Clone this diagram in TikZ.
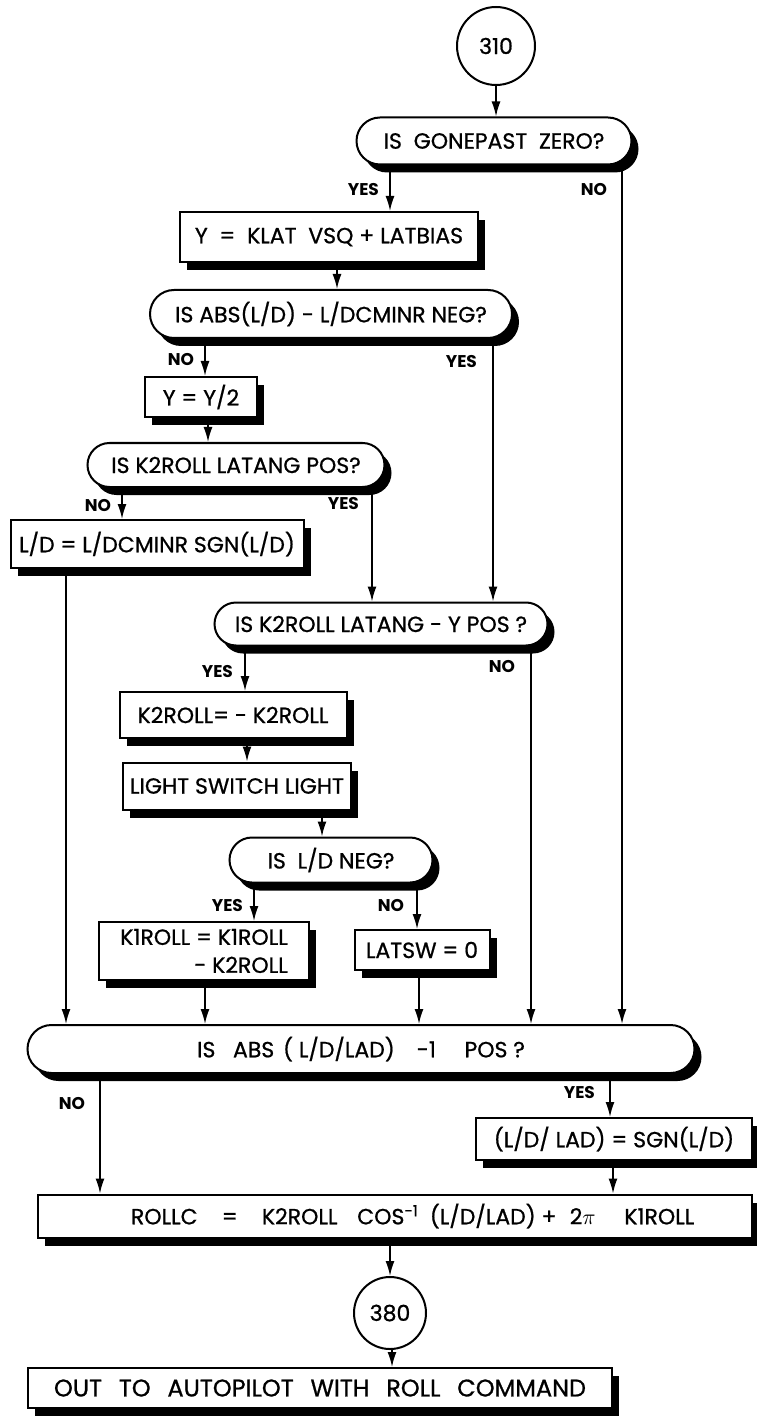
\documentclass[tikz,border=0pt]{standalone}
\usepackage{fontspec}
\setmainfont{Poppins}
\newfontfamily\texte{Poppins}[FakeBold=0.8]
\usetikzlibrary{arrows.meta,shapes.misc,shadows}

\begin{document}
\begin{tikzpicture}[x=0.5pt,y=-0.5pt,
    >={Latex[length=7.5pt,width=4.5pt]},
    every node/.style={font=\texte\fontsize{11}{14}\selectfont},
    ombre/.style={drop shadow={shadow xshift=3.5pt,shadow yshift=-4pt,opacity=1,fill=black}},
    boite/.style={draw,line width=1pt,fill=white,ombre,inner sep=0pt},
    test/.style={rounded rectangle,draw,line width=1pt,fill=white,ombre,inner sep=0pt},
    rond/.style={circle,draw,line width=1pt,fill=white,inner sep=0pt},
    lien/.style={->,line width=0.8pt},
    etiq/.style={font=\fontsize{8.5}{9}\selectfont\bfseries,anchor=east}]

    \useasboundingbox (0,0) rectangle (756,1422);

    % Colonnes des liaisons verticales
    \foreach \n/\x in {oa/390, ob/622, oc/337, od/205, oe/493, of/208, og/122,
                       oh/372, oi/66, oj/245, ok/531, ol/247, om/322, on/254,
                       oo/417, op/205, oq/419, or/100, os/610, ot/613, ou/390, ov/392} {
        \coordinate (\n) at (\x,0);
    }

    % ==============================================
    % Partie haute
    % ==============================================
    \node[rond,minimum size=39pt] (c310) at (496,46) {310};
    \node[test,minimum width=137.5pt,minimum height=23.5pt] (gone) at (494,141) {IS\ \ GONEPAST\ \ ZERO?};
    \node[boite,minimum width=149pt,minimum height=25pt] (ybias) at (329,237) {Y\ \ =\ \ KLAT\ \ VSQ + LATBIAS};
    \node[test,minimum width=181pt,minimum height=24pt] (absneg) at (331,314) {IS ABS(L/D) - L/DCMINR NEG?};
    \node[boite,minimum width=56pt,minimum height=20pt] (yhalf) at (201,397) {Y = Y/2};
    \node[test,minimum width=148.5pt,minimum height=22pt] (latpos) at (236,465) {IS\ K2ROLL LATANG POS?};
    \node[boite,minimum width=146.5pt,minimum height=24pt] (ldmin) at (157,544) {L/D = L/DCMINR SGN(L/D)};

    % ==============================================
    % Branche centrale
    % ==============================================
    \node[test,minimum width=166.5pt,minimum height=21.5pt] (latypos) at (381,624) {IS K2ROLL LATANG - Y POS ?};
    \node[boite,minimum width=113.5pt,minimum height=23pt] (k2neg) at (233,715) {K2ROLL= - K2ROLL};
    \node[boite,minimum width=114pt,minimum height=23.5pt] (light) at (237,786) {LIGHT SWITCH LIGHT};
    \node[test,minimum width=101.5pt,minimum height=22.5pt] (ldneg) at (331,860) {IS\ \ L/D NEG?};
    \node[boite,minimum width=105pt,minimum height=29pt,align=right] (k1roll) at (204,951) {K1ROLL = K1ROLL\\ - K2ROLL};
    \node[boite,minimum width=67.5pt,minimum height=20pt] (latsw) at (422,950) {LATSW = 0};

    % ==============================================
    % Partie basse
    % ==============================================
    \node[test,minimum width=333.5pt,minimum height=24pt] (absone) at (361,1049)
        {IS\hspace{0.8em}ABS\hspace{0.4em}( L/D/LAD)\hspace{1em}-1\hspace{1.3em}POS ?};
    \node[boite,minimum width=138pt,minimum height=21pt] (ldsgn) at (614,1139) {(L/D/ LAD) = SGN(L/D)};
    \node[boite,minimum width=357pt,minimum height=21.5pt] (rollc) at (395,1216)
        {\hspace*{1.6em}ROLLC\hspace{1.1em}=\hspace{1.1em}K2ROLL\hspace{0.9em}COS\textsuperscript{-1}\hspace{0.5em}(L/D/LAD) +\hspace{0.6em}2$\pi$\hspace{1.3em}K1ROLL};
    \node[rond,minimum size=36pt] (c380) at (390,1313) {380};
    \node[boite,minimum width=292pt,minimum height=20pt,font=\texte\fontsize{12}{14}\selectfont] (out) at (320,1388)
        {OUT\hspace{0.7em}TO\hspace{0.7em}AUTOPILOT\hspace{0.7em}WITH\hspace{0.7em}ROLL\hspace{0.7em}COMMAND};

    % Etiquettes OUI / NON
    \node[etiq] (y1) at (386,190) {YES};
    \node[etiq] (n1) at (614,190) {NO};
    \node[etiq] (n2) at (201,360) {NO};
    \node[etiq] (y2) at (484,362) {YES};
    \node[etiq] (n3) at (118,506) {NO};
    \node[etiq] (y3) at (366,504) {YES};
    \node[etiq] (y4) at (240,672) {YES};
    \node[etiq] (n4) at (522,667) {NO};
    \node[etiq] (y5) at (250,905) {YES};
    \node[etiq] (n5) at (411,905) {NO};
    \node[etiq] (n6) at (92,1103) {NO};
    \node[etiq] (y6) at (602,1092) {YES};

    % Liaisons
    \draw[lien] (c310.south) -- (c310.south |- gone.north);
    \draw[lien] (gone.south -| oa) -- (ybias.north -| oa);
    \draw[lien] (gone.south -| ob) -- (absone.north -| ob);
    \draw[lien] (ybias.south -| oc) -- (absneg.north -| oc);
    \draw[lien] (absneg.south -| od) -- (yhalf.north -| od);
    \draw[lien] (absneg.south -| oe) -- (latypos.north -| oe);
    \draw[lien] (yhalf.south -| of) -- (latpos.north -| of);
    \draw[lien] (latpos.south -| og) -- (ldmin.north -| og);
    \draw[lien] (latpos.south -| oh) -- (latypos.north -| oh);
    \draw[lien] (ldmin.south -| oi) -- (absone.north -| oi);
    \draw[lien] (latypos.south -| oj) -- (k2neg.north -| oj);
    \draw[lien] (latypos.south -| ok) -- (absone.north -| ok);
    \draw[lien] (k2neg.south -| ol) -- (light.north -| ol);
    \draw[lien] (light.south -| om) -- (ldneg.north -| om);
    \draw[lien] (ldneg.south -| on) -- (k1roll.north -| on);
    \draw[lien] (ldneg.south -| oo) -- (latsw.north -| oo);
    \draw[lien] (k1roll.south -| op) -- (absone.north -| op);
    \draw[lien] (latsw.south -| oq) -- (absone.north -| oq);
    \draw[lien] (absone.south -| or) -- (rollc.north -| or);
    \draw[lien] (absone.south -| os) -- (ldsgn.north -| os);
    \draw[lien] (ldsgn.south -| ot) -- (rollc.north -| ot);
    \draw[lien] (rollc.south -| ou) -- (c380.north -| ou);
    \draw[lien] (c380.south -| ov) -- (out.north -| ov);

\end{tikzpicture}
\end{document}
